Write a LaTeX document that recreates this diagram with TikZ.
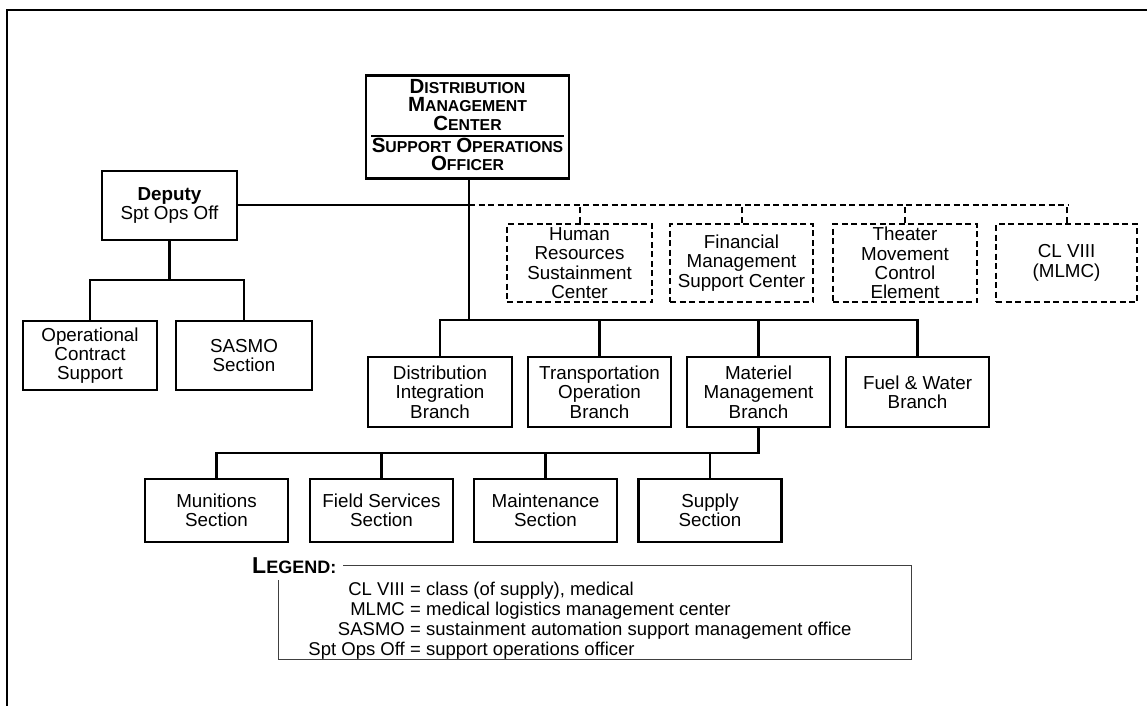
\documentclass[tikz,border=0pt]{standalone}
\usepackage{fontspec}
\setmainfont{Liberation Sans}
\newcommand{\bigsc}[2]{{\fontsize{20.5}{18}\selectfont #1}{\fontsize{15.8}{18}\selectfont #2}}
\begin{document}
\begin{tikzpicture}[x=1pt,y=-1pt,
  box/.style={draw, line width=2.2pt, align=center, inner sep=0pt,
    font=\fontsize{18.8}{19.3}\selectfont},
  dbox/.style={box, dash pattern=on 6pt off 3.5pt},
  link/.style={line width=2.2pt},
  dlink/.style={line width=2pt, dash pattern=on 6pt off 3.5pt},
  sctext/.style={font=\bfseries\fontsize{15.8}{18}\selectfont, align=center,
    inner sep=0pt, anchor=base},
  legtext/.style={font=\fontsize{18.5}{20}\selectfont, inner sep=0pt},
  frame/.style={line width=2.6pt}]
\useasboundingbox (0,0) rectangle (1147,706);
% frame
\draw[frame] (1147,10) -- (7,10) -- (7,706);
% top node
\node[box, minimum width=203pt, minimum height=103pt] (dmc) at (467.5,127) {};
\node[sctext] (t1) at (467.5,130)
  {\bigsc{D}{ISTRIBUTION}\\\bigsc{M}{ANAGEMENT}\\\bigsc{C}{ENTER}};
\node[sctext] (t4) at (467.5,170.5)
  {\bigsc{S}{UPPORT}\hspace{5pt}\bigsc{O}{PERATIONS}\\\bigsc{O}{FFICER}};
\coordinate (rl) at (371,135.5);
\coordinate (rr) at (564,135.5);
\draw[line width=2pt] (rl) -- (rr);
% deputy
\node[box, minimum width=135pt, minimum height=69pt] (dep) at (169.5,205.5)
  {\textbf{Deputy}\\Spt Ops Off};
\node[box, minimum width=134pt, minimum height=69pt] (ocs) at (90,355.5)
  {Operational\\Contract\\Support};
\node[box, minimum width=136pt, minimum height=69pt] (sasmo) at (244,355.5)
  {SASMO\\Section};
% dashed boxes
\node[dbox, minimum width=145pt, minimum height=78pt] (hr) at (579.5,263)
  {Human\\Resources\\Sustainment\\Center};
\node[dbox, minimum width=143pt, minimum height=78pt] (fm) at (741.5,263)
  {Financial\\Management\\Support Center};
\node[dbox, minimum width=144pt, minimum height=78pt] (tmc) at (905,263)
  {Theater\\Movement\\Control\\Element};
\node[dbox, minimum width=141pt, minimum height=78pt] (cl) at (1066.5,263)
  {CL VIII\\(MLMC)};
% branches
\node[box, minimum width=144pt, minimum height=70pt] (di) at (440,392)
  {Distribution\\Integration\\Branch};
\node[box, minimum width=143pt, minimum height=70pt] (to) at (599.5,392)
  {Transportation\\Operation\\Branch};
\node[box, minimum width=143pt, minimum height=70pt] (mm) at (758.5,392)
  {Materiel\\Management\\Branch};
\node[box, minimum width=143pt, minimum height=70pt] (fw) at (917.5,392)
  {Fuel \& Water\\Branch};
% sections
\node[box, minimum width=143pt, minimum height=63pt] (mun) at (216.5,510.5)
  {Munitions\\Section};
\node[box, minimum width=143pt, minimum height=63pt] (fs) at (381.5,510.5)
  {Field Services\\Section};
\node[box, minimum width=143pt, minimum height=63pt] (mnt) at (545.5,510.5)
  {Maintenance\\Section};
\node[box, minimum width=143pt, minimum height=63pt] (sup) at (710,510.5)
  {Supply\\Section};
% connectors
\coordinate (j0) at (469,205);
\coordinate (jb) at (469,320);
\coordinate (jd) at (1068,205);
\draw[link] (dmc.south -| j0) -- (jb);
\draw[link] (dep.east |- j0) -- (j0);
\draw[dlink] (j0) -- (jd);
\foreach \n in {hr,fm,tmc,cl} \draw[dlink] (\n.north) -- (\n.north |- j0);
\draw[link] (di.north) -- (di.north |- jb) -- (fw.north |- jb) -- (fw.north);
\draw[link] (to.north) -- (to.north |- jb);
\draw[link] (mm.north) -- (mm.north |- jb);
\coordinate (jd2) at (169.5,280);
\draw[link] (dep.south) -- (jd2);
\draw[link] (ocs.north) -- (ocs.north |- jd2) -- (sasmo.north |- jd2) -- (sasmo.north);
\coordinate (js) at (758.5,453);
\draw[link] (mm.south) -- (js) -- (mun.north |- js) -- (mun.north);
\foreach \n in {fs,mnt,sup} \draw[link] (\n.north) -- (\n.north |- js);
% legend
\node[font=\bfseries, anchor=west, inner sep=0pt] (leg) at (252,566)
  {{\fontsize{23}{23}\selectfont L}{\fontsize{18}{23}\selectfont EGEND:}};
\coordinate (lt) at (911,565);
\coordinate (lb) at (911,659);
\coordinate (lbl) at (278,659);
\coordinate (ltl) at (278,580);
\draw[line width=1pt, black!75] ([xshift=7pt]leg.east |- lt) -- (lt) -- (lb) -- (lbl) -- (ltl);
\foreach \t/\d/\y in {CL VIII/class (of supply){,} medical/595,
  MLMC/medical logistics management center/615,
  SASMO/sustainment automation support management office/635,
  Spt Ops Off/support operations officer/655} {
  \node[legtext, anchor=base east] at (405,\y) {\t};
  \node[legtext, anchor=base west] at (410,\y) {= \d};
}
\end{tikzpicture}
\end{document}
